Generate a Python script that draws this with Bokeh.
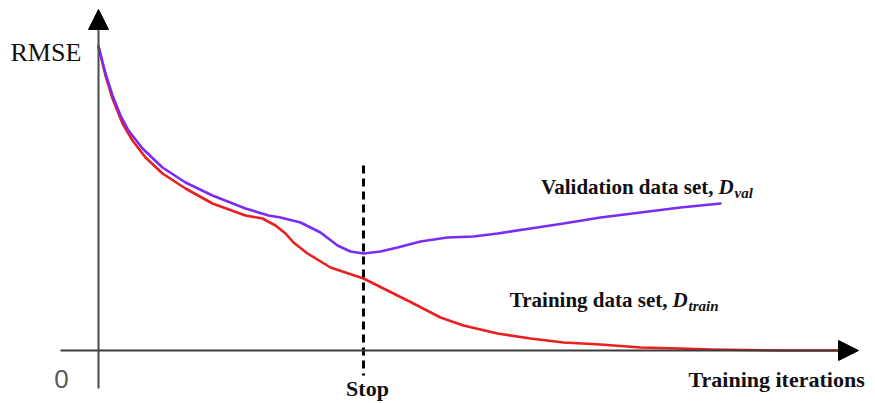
from bokeh.plotting import figure
from bokeh.models import Range1d, Arrow, NormalHead
from bokeh.core.properties import value
from bokeh.embed import file_html
from bokeh.resources import INLINE

# ---- data (iterations, RMSE) ----
val_iter = [0, 7, 14, 22, 30, 44, 64, 87, 114, 147, 170, 182, 202, 222, 239, 252, 265, 282,
            299, 322, 349, 375, 399, 432, 465, 502, 542, 582, 622]
val_rmse = [3.04, 2.77, 2.55, 2.35, 2.20, 2.02, 1.83, 1.68, 1.55, 1.42, 1.35, 1.33, 1.28, 1.18,
            1.05, 0.99, 0.97, 0.99, 1.03, 1.09, 1.13, 1.14, 1.17, 1.22, 1.27, 1.33, 1.38, 1.43, 1.47]

train_iter = [0, 7, 14, 24, 34, 47, 64, 87, 114, 147, 164, 177, 187, 195, 209, 232, 265, 289,
              315, 342, 365, 399, 432, 465, 502, 542, 582, 612, 682, 747]
train_rmse = [3.04, 2.75, 2.52, 2.27, 2.10, 1.93, 1.77, 1.62, 1.47, 1.35, 1.32, 1.25, 1.17, 1.08,
              0.97, 0.83, 0.72, 0.60, 0.47, 0.33, 0.25, 0.17, 0.12, 0.08, 0.06, 0.03, 0.02, 0.01,
              0.0, 0.0]

stop_iter = 265

p = figure(width=875, height=403, x_range=Range1d(-98, 777), y_range=Range1d(-0.53, 3.50),
           output_backend="svg", toolbar_location=None, min_border=0,
           x_axis_type=None, y_axis_type=None)
p.outline_line_color = None
p.background_fill_color = "white"
p.border_fill_color = "white"
for g in p.grid:
    g.visible = False

# axes as arrows
p.add_layout(Arrow(end=NormalHead(size=20, fill_color="black", line_color="black"),
                   x_start=-38, y_start=0, x_end=760, y_end=0,
                   line_color="#3a3a3a", line_width=2))
p.add_layout(Arrow(end=NormalHead(size=20, fill_color="black", line_color="black"),
                   x_start=0, y_start=-0.38, x_end=0, y_end=3.41,
                   line_color="#4a4a4a", line_width=2))

# curves
p.line(train_iter, train_rmse, line_color="#ea1f1f", line_width=2.6, line_join="round", line_cap="round")
p.line(val_iter, val_rmse, line_color="#7a2cf2", line_width=2.6, line_join="round", line_cap="round")

# stop line
p.line([stop_iter, stop_iter], [1.85, -0.25], line_color="black", line_width=3, line_dash="8 5")

serif = value("Liberation Serif")
dark = "#111111"

# texts
p.text(x=[-88], y=[2.98], text=["RMSE"], text_font=serif, text_font_size="26px",
       text_color=dark, text_baseline="alphabetic", text_align="left")
p.text(x=[-37], y=[-0.28], text=["0"], text_font=value("Liberation Sans"), text_font_size="26px",
       text_color="#5a5a5a", text_baseline="alphabetic", text_align="center")
p.text(x=[stop_iter + 4], y=[-0.38], text=["Stop"], text_font=serif, text_font_size="22px",
       text_font_style="bold", text_color=dark, text_baseline="alphabetic", text_align="center")
p.text(x=[590], y=[-0.29], text=["Training iterations"], text_font=serif, text_font_size="22px",
       text_font_style="bold", text_color=dark, text_baseline="alphabetic", text_align="left")

# series labels
p.text(x=[615, 569], y=[1.64, 0.51], text=["Validation data set,", "Training data set,"],
       text_font=serif, text_font_size="21px", text_font_style="bold", text_color=dark,
       text_baseline="alphabetic", text_align="right")
p.text(x=[620, 574], y=[1.64, 0.51], text=["D", "D"],
       text_font=serif, text_font_size="21px", text_font_style="bold italic", text_color=dark,
       text_baseline="alphabetic", text_align="left")
p.text(x=[636, 590], y=[1.58, 0.45], text=["val", "train"],
       text_font=serif, text_font_size="15px", text_font_style="bold italic", text_color=dark,
       text_baseline="alphabetic", text_align="left")

open("out.html", "w").write(file_html(p, INLINE))
